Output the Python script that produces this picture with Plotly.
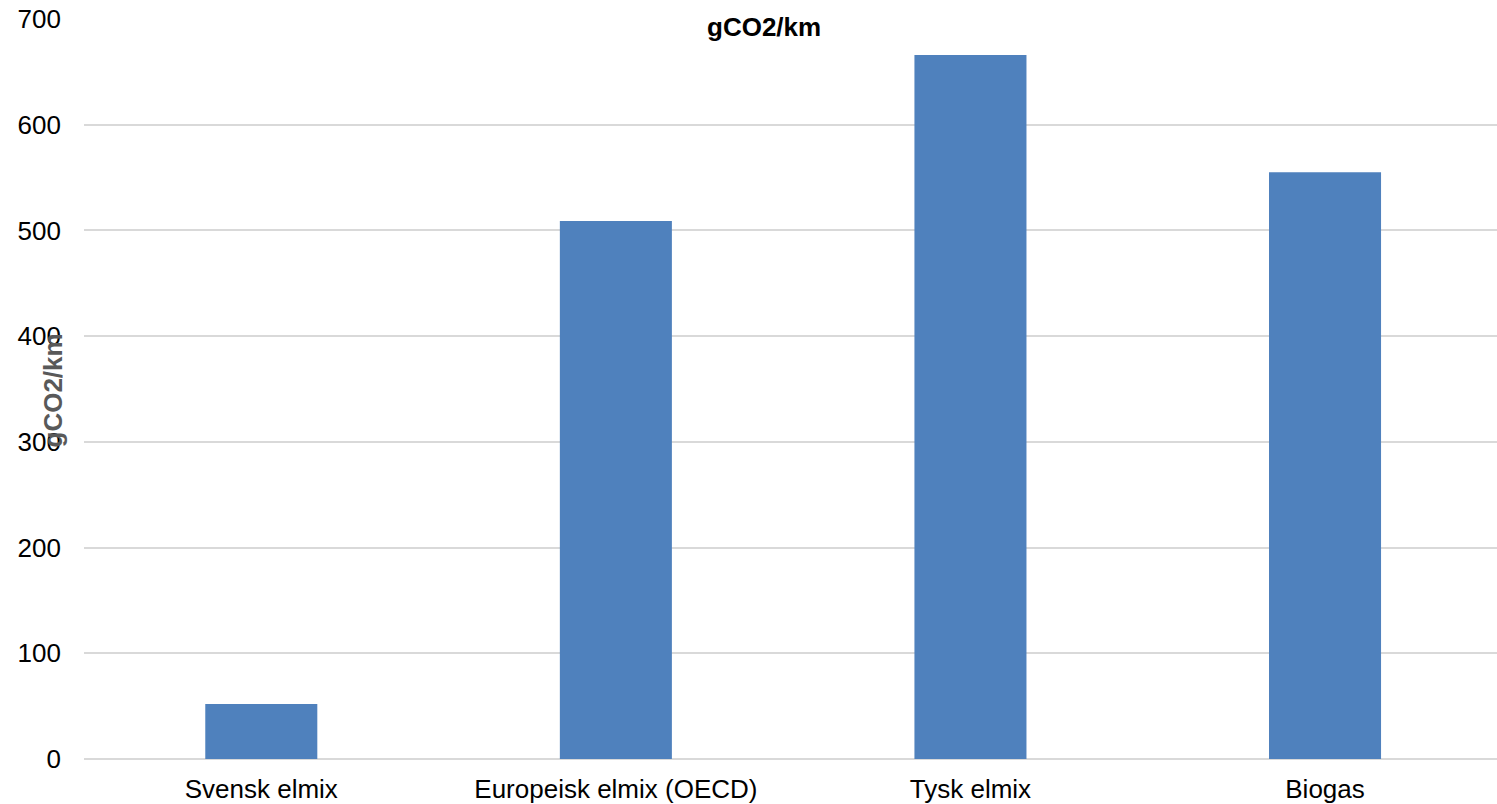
import plotly.graph_objects as go

categories = ["Svensk elmix", "Europeisk elmix (OECD)", "Tysk elmix", "Biogas"]
values = [52, 509, 666, 555]
y_ticks = [0, 100, 200, 300, 400, 500, 600, 700]

fig = go.Figure()
fig.add_trace(go.Bar(
    x=categories, y=values,
    marker=dict(color="#4F81BD", line=dict(width=0)),
    width=0.316,
))

font_family = "Liberation Sans, Arial, sans-serif"

fig.update_layout(
    width=1497, height=804,
    margin=dict(l=84, r=0, t=19, b=45),
    paper_bgcolor="white", plot_bgcolor="white",
    showlegend=False,
    font=dict(family=font_family, size=26, color="black"),
    xaxis=dict(
        type="category",
        range=[-0.5, 3.485],
        showgrid=False, showline=False, zeroline=False,
        ticks="", ticklabelstandoff=12,
        tickfont=dict(size=26, color="black"),
    ),
    yaxis=dict(
        range=[0, 700],
        tickvals=y_ticks,
        showgrid=True, gridcolor="#D9D9D9", gridwidth=1.5,
        zeroline=True, zerolinecolor="#D9D9D9", zerolinewidth=1.5,
        showline=False, ticks="", ticklabelstandoff=22,
        tickfont=dict(size=26, color="black"),
    ),
)

fig.add_annotation(
    text="<b>gCO2/km</b>", xref="paper", yref="paper",
    x=(764 - 84) / 1413, y=1 - (27 - 19) / 740,
    xanchor="center", yanchor="middle", showarrow=False,
    font=dict(family=font_family, size=26, color="black"),
)
fig.add_annotation(
    text="<b>gCO2/km</b>", xref="paper", yref="paper",
    x=(52 - 84) / 1413, y=(758.5 - 390) / 740,
    xanchor="center", yanchor="middle", showarrow=False, textangle=-90,
    font=dict(family=font_family, size=26, color="#595959"),
)

fig.write_html(
    "out.html",
    config={"displayModeBar": False},
    post_script="document.body.style.margin='0px';document.body.style.overflow='hidden';",
)
